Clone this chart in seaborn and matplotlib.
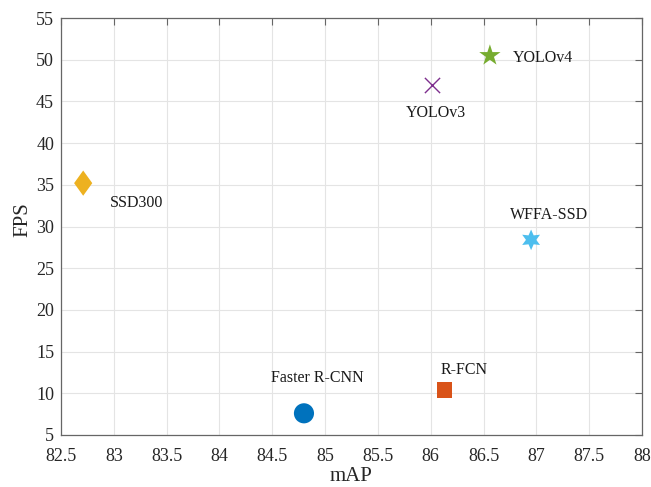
import matplotlib
matplotlib.use("Agg")
import matplotlib.pyplot as plt
from matplotlib.path import Path
import seaborn as sns
import pandas as pd

# Detector accuracy vs. speed
models = ["Faster R-CNN", "R-FCN", "SSD300", "YOLOv3", "YOLOv4", "WFFA-SSD"]
map_values = [84.80, 86.13, 82.71, 86.01, 86.56, 86.95]
fps_values = [7.6, 10.4, 35.2, 47.0, 50.5, 28.4]

# Text label anchors (data coordinates)
label_x = [84.49, 86.09, 82.96, 85.76, 86.78, 86.75]
label_y = [11.8, 12.8, 32.85, 43.6, 50.2, 31.4]

x_ticks = [82.5, 83, 83.5, 84, 84.5, 85, 85.5, 86, 86.5, 87, 87.5, 88]
y_ticks = [5, 10, 15, 20, 25, 30, 35, 40, 45, 50, 55]

colors = {
    "Faster R-CNN": "#0072BD",
    "R-FCN": "#D95319",
    "SSD300": "#EDB120",
    "YOLOv3": "#7E2F8E",
    "YOLOv4": "#77AC30",
    "WFFA-SSD": "#4DBEEE",
}
tall_diamond = Path([(0, 1), (0.72, 0), (0, -1), (-0.72, 0), (0, 1)],
                    [Path.MOVETO, Path.LINETO, Path.LINETO, Path.LINETO, Path.CLOSEPOLY])
markers = {
    "Faster R-CNN": "o",
    "R-FCN": "s",
    "SSD300": tall_diamond,
    "YOLOv3": "x",
    "YOLOv4": "*",
    "WFFA-SSD": (6, 1, 0),
}
sizes = {
    "Faster R-CNN": 210,
    "R-FCN": 120,
    "SSD300": 330,
    "YOLOv3": 120,
    "YOLOv4": 260,
    "WFFA-SSD": 220,
}

df = pd.DataFrame({"model": models, "mAP": map_values, "FPS": fps_values})

sns.set_theme(style="white")
plt.rcParams["font.family"] = ["Liberation Serif", "DejaVu Serif"]

fig = plt.figure(figsize=(6.51, 4.87), dpi=100)
ax = fig.add_axes([0.0937, 0.1068, 0.8925, 0.8562])

# one call per detector so each keeps its own marker shape and size
for name in models:
    sub = df[df["model"] == name]
    line_art = markers[name] == "x"
    sns.scatterplot(data=sub, x="mAP", y="FPS", marker=markers[name],
                    s=sizes[name], color=colors[name],
                    linewidth=1.0 if line_art else 0,
                    edgecolor=colors[name] if line_art else "none",
                    legend=False, ax=ax)

for name, tx, ty in zip(models, label_x, label_y):
    ax.text(tx, ty, name, ha="left", va="center", fontsize=11.5, color="#1a1a1a")

ax.set_xlim(82.5, 88)
ax.set_ylim(5, 55)
ax.set_xticks(x_ticks)
ax.set_xticklabels([f"{v:g}" for v in x_ticks])
ax.set_yticks(y_ticks)
ax.grid(True, color="#e4e4e4", linewidth=0.8)
ax.set_axisbelow(True)
ax.tick_params(direction="in", top=True, right=True, length=5, width=0.8,
               colors="#666666", labelcolor="#262626", labelsize=13)
ax.tick_params(axis="x", pad=9.5)
ax.tick_params(axis="y", pad=5)
for sp in ax.spines.values():
    sp.set_color("#666666")
    sp.set_linewidth(0.9)
ax.set_xlabel("mAP", fontsize=15, color="#262626", labelpad=1)
ax.set_ylabel("FPS", fontsize=15, color="#262626")
ax.yaxis.set_label_coords(-0.049, 0.516)

fig.savefig("out.png", dpi=100)
